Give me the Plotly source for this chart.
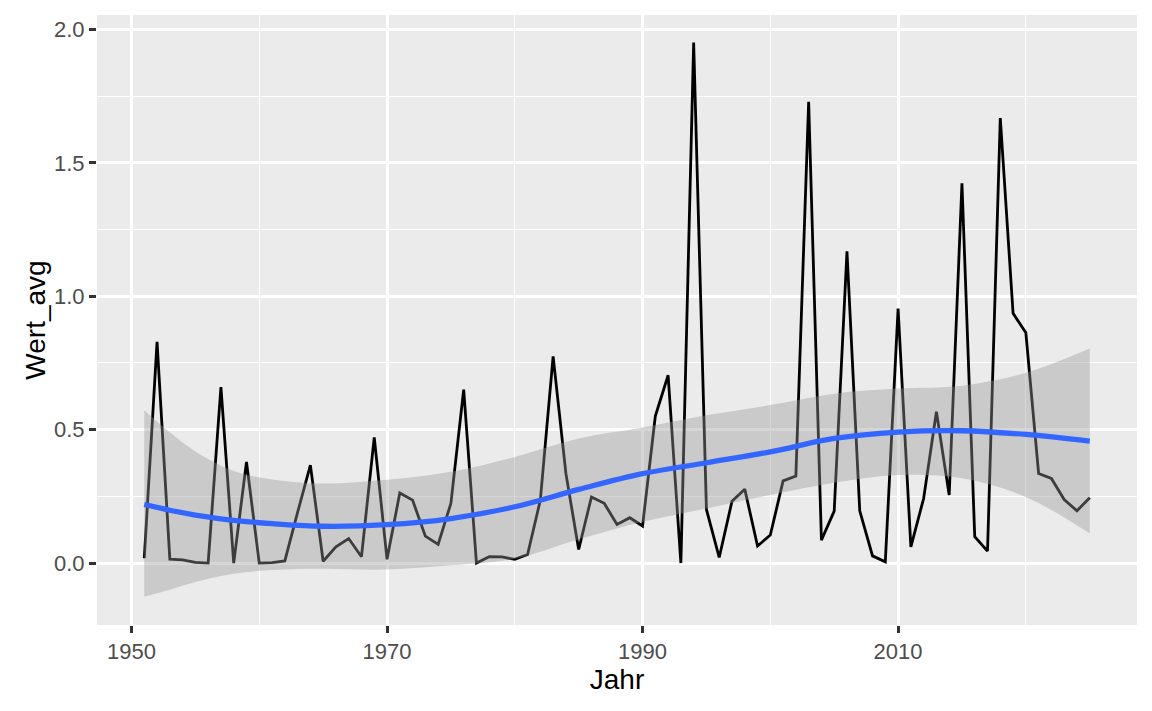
import plotly.graph_objects as go

# yearly averages
jahr = list(range(1951, 2026))
wert_avg = [
    0.018, 0.829, 0.015, 0.012, 0.003, 0.000, 0.660, 0.000, 0.379, 0.000,
    0.002, 0.008, 0.190, 0.367, 0.007, 0.061, 0.092, 0.024, 0.471, 0.014,
    0.263, 0.236, 0.101, 0.070, 0.224, 0.650, 0.000, 0.024, 0.023, 0.014,
    0.032, 0.236, 0.775, 0.336, 0.051, 0.248, 0.224, 0.145, 0.170, 0.139,
    0.551, 0.704, 0.000, 1.951, 0.201, 0.021, 0.232, 0.277, 0.064, 0.105,
    0.308, 0.326, 1.729, 0.086, 0.195, 1.168, 0.196, 0.027, 0.005, 0.954,
    0.061, 0.242, 0.567, 0.255, 1.423, 0.099, 0.045, 1.668, 0.936, 0.863,
    0.336, 0.317, 0.238, 0.196, 0.245,
]

# loess smooth (geom_smooth)
smooth_jahr = [1951, 1953, 1955, 1958, 1961, 1965, 1970, 1975, 1980,
               1985, 1990, 1995, 2000, 2005, 2010, 2015, 2020, 2025]
smooth_fit = [0.220, 0.198, 0.180, 0.160, 0.148, 0.138, 0.144, 0.167, 0.211,
              0.276, 0.335, 0.376, 0.417, 0.467, 0.491, 0.496, 0.482, 0.457]
smooth_upper = [0.573, 0.490, 0.418, 0.345, 0.313, 0.298, 0.312, 0.342, 0.398,
                0.467, 0.508, 0.554, 0.592, 0.635, 0.654, 0.665, 0.713, 0.804]
smooth_lower = [-0.126, -0.100, -0.071, -0.040, -0.026, -0.021, -0.024, -0.008, 0.016,
                0.089, 0.155, 0.205, 0.255, 0.301, 0.330, 0.318, 0.248, 0.111]

x_ticks = [1950, 1970, 1990, 2010]
y_ticks = [0.0, 0.5, 1.0, 1.5, 2.0]

fig = go.Figure()

# raw series (drawn first so the ribbon sits on top like in ggplot)
fig.add_trace(go.Scatter(x=jahr, y=wert_avg, mode="lines",
                         line=dict(color="black", width=2.8), showlegend=False))

# confidence ribbon
fig.add_trace(go.Scatter(x=smooth_jahr, y=smooth_upper, mode="lines",
                         line=dict(width=0, shape="spline"), showlegend=False,
                         hoverinfo="skip"))
fig.add_trace(go.Scatter(x=smooth_jahr, y=smooth_lower, mode="lines",
                         line=dict(width=0, shape="spline"), fill="tonexty",
                         fillcolor="rgba(153,153,153,0.4)", showlegend=False,
                         hoverinfo="skip"))

# smooth line
fig.add_trace(go.Scatter(x=smooth_jahr, y=smooth_fit, mode="lines",
                         line=dict(color="#3366FF", width=5.3, shape="spline"),
                         showlegend=False))

axis_common = dict(
    showgrid=True, gridcolor="white", gridwidth=2.6,
    zeroline=False, showline=False, automargin=False,
    ticks="outside", ticklen=7, tickwidth=2.6, tickcolor="#333333",
    tickfont=dict(family="Liberation Sans, Arial", size=22, color="#4D4D4D"),
)

fig.update_xaxes(
    **axis_common,
    range=[1947.3, 2028.7],
    tickvals=x_ticks,
    minor=dict(dtick=10, tick0=1950, showgrid=True, gridcolor="white", gridwidth=1.3, ticks=""),
    title=dict(text="Jahr", font=dict(family="Liberation Sans, Arial", size=28, color="black"),
               standoff=4),
)
fig.update_yaxes(
    **axis_common,
    range=[-0.232, 2.054],
    tickvals=y_ticks,
    tickformat=".1f",
    minor=dict(dtick=0.25, tick0=0, showgrid=True, gridcolor="white", gridwidth=1.3, ticks=""),
    title=dict(text="Wert_avg", font=dict(family="Liberation Sans, Arial", size=28, color="black"),
               standoff=0),
)

# page body adds an 8px margin, so the figure is 8px smaller and shifted
fig.update_layout(
    width=1144, height=703,
    plot_bgcolor="#EBEBEB", paper_bgcolor="white",
    margin=dict(l=89, r=15, t=7, b=86),
    showlegend=False,
)

fig.write_html("out.html")
